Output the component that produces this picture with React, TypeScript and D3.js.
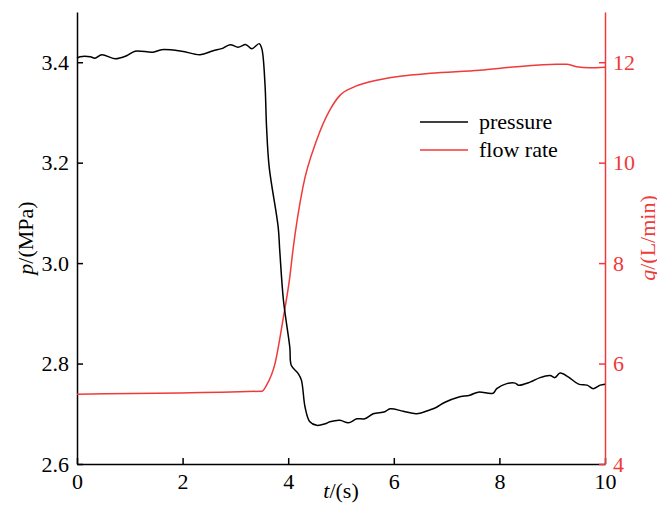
import React, { useEffect, useRef } from "react";
import * as d3 from "d3";

// time (s) and pressure (MPa)
const pTime = [0, 0.06, 0.25, 0.34, 0.47, 0.72, 0.94, 1.1, 1.44, 1.6, 1.98, 2.33, 2.58, 2.74, 2.9, 3.05, 3.2, 3.31, 3.45, 3.5,
  3.56, 3.59, 3.64, 3.81, 3.84, 3.91, 4.03, 4.06, 4.19, 4.25, 4.32, 4.41, 4.54, 4.7, 4.79, 4.98, 5.14, 5.3, 5.45, 5.61, 5.83,
  5.93, 6.18, 6.43, 6.69, 6.81, 6.97, 7.22, 7.44, 7.6, 7.88, 7.95, 8.14, 8.3, 8.36, 8.58, 8.77, 8.96, 9.05, 9.15, 9.31, 9.5,
  9.66, 9.78, 9.91, 10];
const pressure = [3.408, 3.411, 3.411, 3.408, 3.415, 3.407, 3.413, 3.422, 3.42, 3.425, 3.422, 3.415, 3.423, 3.427, 3.435, 3.43,
  3.435, 3.427, 3.437, 3.427, 3.357, 3.271, 3.191, 3.072, 3.025, 2.926, 2.833, 2.796, 2.78, 2.767, 2.713, 2.684, 2.677, 2.68,
  2.684, 2.687, 2.682, 2.69, 2.69, 2.7, 2.704, 2.71, 2.705, 2.7, 2.708, 2.713, 2.723, 2.733, 2.737, 2.743, 2.741, 2.75, 2.76,
  2.761, 2.757, 2.763, 2.772, 2.776, 2.772, 2.781, 2.773, 2.759, 2.757, 2.75, 2.757, 2.759];

// time (s) and flow rate (L/min)
const qTime = [0, 3.5, 3.59, 3.75, 3.91, 4.03, 4.09, 4.28, 4.54, 4.79, 4.98, 5.23, 5.55, 6.12, 6.69, 7.63, 8.33, 9.08, 9.27, 9.46, 9.71, 10];
const flowRate = [5.39, 5.45, 5.57, 6.0, 6.93, 7.72, 8.26, 9.52, 10.45, 11.05, 11.34, 11.5, 11.61, 11.72, 11.78, 11.84, 11.91, 11.96, 11.96, 11.91, 11.89, 11.9];

const xTicks = [0, 2, 4, 6, 8, 10];
const pTicks = [2.6, 2.8, 3.0, 3.2, 3.4];
const qTicks = [4, 6, 8, 10, 12];
const legendNames = ["pressure", "flow rate"];

const RED = "#f03a3a";
const FONT = "'Liberation Serif', 'Times New Roman', serif";

export default function App() {
  const ref = useRef<SVGSVGElement>(null);

  useEffect(() => {
    const W = 657, H = 509;
    const margin = { top: 12, right: 52, bottom: 45, left: 77 };
    const w = W - margin.left - margin.right;
    const h = H - margin.top - margin.bottom;

    const svg = d3.select(ref.current);
    svg.selectAll("*").remove();
    const g = svg.append("g").attr("transform", `translate(${margin.left},${margin.top})`);

    const x = d3.scaleLinear().domain([0, 10]).range([0, w]);
    const yP = d3.scaleLinear().domain([2.6, 3.5]).range([h, 0]);
    const yQ = d3.scaleLinear().domain([4, 13]).range([h, 0]);

    // axes, ticks point inward
    const xAxis = g.append("g").attr("transform", `translate(0,${h})`)
      .call(d3.axisBottom(x).tickValues(xTicks).tickFormat(d3.format("d")).tickSizeInner(-6).tickSizeOuter(0).tickPadding(9));
    const lAxis = g.append("g")
      .call(d3.axisLeft(yP).tickValues(pTicks).tickFormat(d3.format(".1f")).tickSizeInner(-6).tickSizeOuter(0).tickPadding(8));
    const rAxis = g.append("g").attr("transform", `translate(${w},0)`)
      .call(d3.axisRight(yQ).tickValues(qTicks).tickFormat(d3.format("d")).tickSizeInner(-6).tickSizeOuter(0).tickPadding(8));

    [xAxis, lAxis].forEach((a) => {
      a.selectAll("path, line").attr("stroke", "#000").attr("stroke-width", 1.5);
      a.selectAll("text").attr("fill", "#000");
    });
    rAxis.selectAll("path, line").attr("stroke", RED).attr("stroke-width", 1.5);
    rAxis.selectAll("text").attr("fill", RED);
    g.selectAll(".tick text").attr("font-family", FONT).attr("font-size", 22);
    // keep the x ticks from hiding under the right axis
    xAxis.select(".domain").raise();

    // data lines
    const pData = pTime.map((t, i) => [t, pressure[i]] as [number, number]);
    const qData = qTime.map((t, i) => [t, flowRate[i]] as [number, number]);

    g.append("path").datum(qData)
      .attr("fill", "none").attr("stroke", RED).attr("stroke-width", 1.5)
      .attr("d", d3.line<[number, number]>().x((d) => x(d[0])).y((d) => yQ(d[1])).curve(d3.curveMonotoneX));
    g.append("path").datum(pData)
      .attr("fill", "none").attr("stroke", "#000").attr("stroke-width", 1.5)
      .attr("d", d3.line<[number, number]>().x((d) => x(d[0])).y((d) => yP(d[1])).curve(d3.curveCatmullRom));

    // legend
    const leg = g.append("g").attr("transform", `translate(${420 - margin.left},${122 - margin.top})`);
    legendNames.forEach((name, i) => {
      leg.append("line").attr("x1", 0).attr("x2", 48).attr("y1", i * 28).attr("y2", i * 28)
        .attr("stroke", i === 0 ? "#000" : RED).attr("stroke-width", 1.5);
      leg.append("text").attr("x", 59).attr("y", i * 28 + 7)
        .attr("font-family", FONT).attr("font-size", 22).attr("fill", "#000").text(name);
    });

    // axis titles
    const xt = svg.append("text").attr("x", 341).attr("y", 498).attr("text-anchor", "middle")
      .attr("font-family", FONT).attr("font-size", 22).attr("fill", "#000");
    xt.append("tspan").attr("font-style", "italic").text("t");
    xt.append("tspan").text("/(s)");

    const lt = svg.append("text").attr("transform", `translate(33,${margin.top + h / 2}) rotate(-90)`)
      .attr("text-anchor", "middle").attr("font-family", FONT).attr("font-size", 22).attr("fill", "#000");
    lt.append("tspan").attr("font-style", "italic").text("p");
    lt.append("tspan").text("/(MPa)");

    const rt = svg.append("text").attr("transform", `translate(655,${margin.top + h / 2}) rotate(-90)`)
      .attr("text-anchor", "middle").attr("font-family", FONT).attr("font-size", 22).attr("fill", RED);
    rt.append("tspan").attr("font-style", "italic").text("q");
    rt.append("tspan").text("/(L/min)");
  }, []);

  return (
    <svg ref={ref} width={657} height={509}
      style={{ position: "absolute", left: 0, top: 0, background: "#fff" }} />
  );
}
